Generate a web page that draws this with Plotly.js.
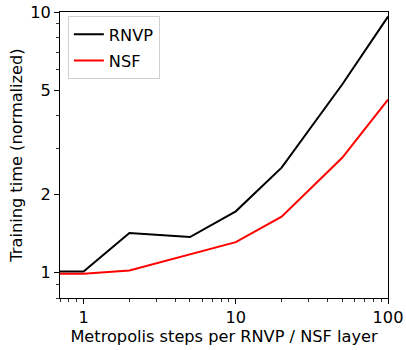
<!DOCTYPE html>
<html>
<head>
<meta charset="utf-8">
<script src="https://cdn.plot.ly/plotly-3.0.1.min.js"></script>
<style>html,body{margin:0;padding:0;background:#fff;}#chart{width:406px;height:350px;}</style>
</head>
<body>
<div id="chart"></div>
<script>
const steps = [0.5, 1, 2, 5, 10, 20, 50, 100];
const rnvp = [1.01, 1.01, 1.42, 1.37, 1.72, 2.53, 5.27, 9.6];
const nsf = [0.99, 0.99, 1.02, 1.18, 1.31, 1.64, 2.76, 4.61];
const seriesNames = ['RNVP', 'NSF'];
const xTicks = [1, 10, 100];
const xTickText = ['1', '10', '100'];
const xMinor = [0.7, 0.8, 0.9, 2, 3, 4, 5, 6, 7, 8, 9, 20, 30, 40, 50, 60, 70, 80, 90];
const yTicks = [1, 2, 5, 10];
const yTickText = ['1', '2', '5', '10'];
const yMinor = [0.8, 0.9, 3, 4, 6, 7, 8, 9];

const font = {family: 'DejaVu Sans', size: 16.2, color: '#000'};
const traces = [
  {x: steps, y: rnvp, name: seriesNames[0], mode: 'lines', line: {color: '#000', width: 2}, legendgroup: 'a'},
  {x: steps, y: nsf, name: seriesNames[1], mode: 'lines', line: {color: '#ff0000', width: 2}, legendgroup: 'b'}
];
const layout = {
  width: 406, height: 350,
  margin: {l: 60, r: 18, t: 12, b: 52},
  paper_bgcolor: '#fff', plot_bgcolor: '#fff',
  font: font,
  showlegend: true,
  legend: {x: 0.024, y: 0.985, xanchor: 'left', yanchor: 'top', bordercolor: '#d0d0d0', borderwidth: 1,
           bgcolor: 'rgba(255,255,255,0.8)', font: font, traceorder: 'grouped', tracegroupgap: 2},
  xaxis: {
    type: 'log', range: [Math.log10(0.7), 2],
    tickvals: xTicks, ticktext: xTickText, ticks: 'outside', ticklen: 5, tickwidth: 1, tickcolor: '#000',
    minor: {tickvals: xMinor, ticks: 'outside', ticklen: 3, tickwidth: 0.8, tickcolor: '#000', showgrid: false},
    showgrid: false, zeroline: false, showline: true, linecolor: '#000', linewidth: 1, mirror: true,
    tickfont: font,
    title: {text: 'Metropolis steps per RNVP / NSF layer', font: font, standoff: 4}
  },
  yaxis: {
    type: 'log', range: [Math.log10(0.8), 1],
    tickvals: yTicks, ticktext: yTickText, ticks: 'outside', ticklen: 5, tickwidth: 1, tickcolor: '#000',
    minor: {tickvals: yMinor, ticks: 'outside', ticklen: 3, tickwidth: 0.8, tickcolor: '#000', showgrid: false},
    showgrid: false, zeroline: false, showline: true, linecolor: '#000', linewidth: 1, mirror: true,
    tickfont: font,
    title: {text: 'Training time (normalized)', font: font, standoff: 3}
  }
};
Plotly.newPlot('chart', traces, layout, {displayModeBar: false, staticPlot: true});
</script>
</body>
</html>
